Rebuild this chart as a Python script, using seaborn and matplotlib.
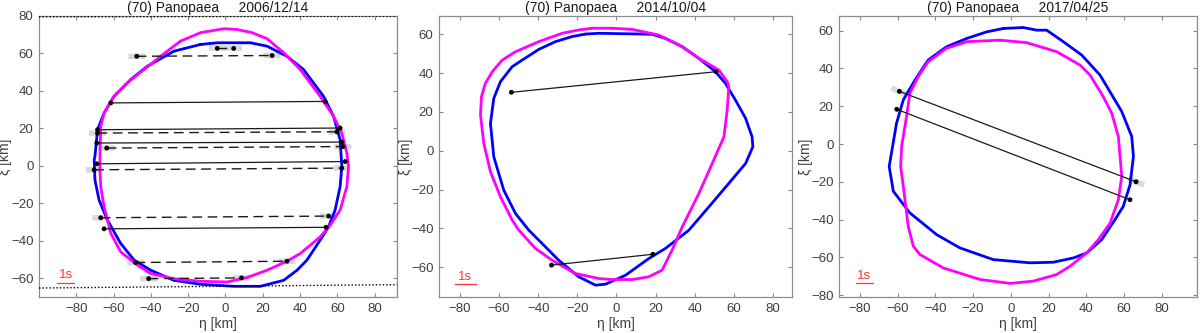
import numpy as np
import pandas as pd
import matplotlib
matplotlib.use("Agg")
import matplotlib.pyplot as plt
import seaborn as sns

sns.set_theme(style="white")
plt.rcParams['font.family'] = ['Liberation Sans', 'DejaVu Sans']

# ---------------- data ----------------
titles = ["(70) Panopaea     2006/12/14",
          "(70) Panopaea     2014/10/04",
          "(70) Panopaea     2017/04/25"]

# Panel 1 (2006/12/14) outlines
p1_blue_eta = [-13.4, -4.4, 13.4, 22.3, 33.0, 41.9, 52.6, 58.0, 61.5, 62.4, 61.5, 58.8, 55.3, 50.8,
               43.7, 38.4, 31.2, 18.7, 4.5, -13.4, -27.7, -40.1, -49.0, -56.2, -63.3, -67.8, -70.0,
               -70.4, -70.0, -68.6, -65.1, -59.8, -50.8, -41.9, -27.7, -13.4]
p1_blue_xi = [64.8, 65.7, 65.7, 63.9, 58.5, 51.4, 37.1, 26.4, 13.9, -0.4, -11.1, -23.6, -32.5, -39.6,
              -50.3, -55.7, -61.1, -64.3, -64.3, -63.2, -61.1, -55.7, -50.3, -41.4, -28.9, -18.2, -7.5,
              3.2, 5.0, 19.3, 28.2, 37.1, 46.1, 53.2, 61.2, 64.8]
p1_mag_eta = [-24.1, -13.4, -0.9, 6.3, 14.3, 22.3, 31.2, 40.1, 50.8, 58.0, 62.4, 65.1, 66.0, 65.1,
              61.5, 56.2, 50.8, 40.1, 33.0, 22.3, 11.6, 0.9, -13.4, -27.7, -40.1, -47.2, -56.2, -61.5,
              -65.1, -66.9, -67.4, -66.9, -65.1, -59.8, -52.6, -43.7, -34.8, -24.1]
p1_mag_xi = [66.6, 71.1, 73.2, 72.8, 71.1, 67.9, 60.4, 51.4, 37.1, 26.4, 17.5, 6.8, -0.4, -11.1,
             -23.6, -31.6, -37.9, -46.8, -50.9, -55.7, -59.6, -62.0, -61.6, -60.2, -57.5, -53.0, -45.9, -36.0,
             -21.8, -11.1, 0.5, 21.0, 28.2, 37.1, 44.3, 51.4, 58.5, 66.6]

# Panel 1 chords: start/end eta, xi and style (solid / dashed)
p1_eta1 = [-4.4, -47.6, -61.5, -68.6, -68.6, -69.0, -63.7, -69.0, -70.4, -66.9, -65.1, -48.2, -41.2]
p1_xi1 = [62.7, 58.5, 33.6, 19.3, 17.5, 12.2, 9.5, 1.1, -2.1, -27.7, -33.6, -51.6, -60.2]
p1_eta2 = [4.4, 25.0, 53.5, 61.5, 59.8, 62.4, 63.0, 64.2, 62.4, 55.3, 54.0, 33.0, 8.6]
p1_xi2 = [62.7, 58.9, 34.4, 20.2, 18.2, 12.7, 10.3, 2.3, -1.2, -26.8, -32.8, -50.9, -59.8]
p1_style = ["dashed", "dashed", "solid", "solid", "dashed", "solid", "dashed", "solid",
            "dashed", "dashed", "solid", "dashed", "dashed"]
# negative (miss) chords shown as dotted lines
p1_neg_eta = [[-100, 92], [-100, 92]]
p1_neg_xi = [[79.6, 79.9], [-65.2, -63.4]]

# Panel 2 (2014/10/04)
p2_blue_eta = [-15.8, -9.0, 18.2, 25.0, 33.6, 42.1, 50.6, 55.7, 60.8, 66.0, 69.3, 69.7, 66.0, 57.4,
               47.2, 37.0, 25.0, 16.5, 4.6, -5.6, -10.7, -19.3, -29.5, -36.3, -44.8, -51.6, -57.6,
               -62.7, -64.4, -62.7, -59.3, -53.3, -48.2, -39.7, -31.2, -22.7, -15.8]
p2_blue_xi = [60.1, 60.5, 60.0, 57.9, 53.6, 47.6, 40.7, 34.7, 26.1, 16.7, 7.2, 2.1, -6.5, -16.8,
              -28.9, -40.9, -50.3, -55.5, -64.1, -68.7, -69.2, -64.9, -56.4, -49.5, -40.9, -32.3, -20.3,
              -3.1, 14.1, 27.0, 35.6, 43.3, 46.7, 52.2, 56.2, 58.8, 60.1]
p2_mag_eta = [-2.2, -12.4, -19.3, -27.8, -39.7, -51.6, -58.4, -63.5, -67.0, -69.0, -69.5, -67.8,
              -64.4, -59.3, -53.3, -49.9, -41.4, -32.9, -21.0, -9.0, -2.2, 8.0, 16.5, 23.3, 28.4,
              33.6, 42.1, 49.7, 54.9, 56.6, 57.4, 56.6, 52.3, 42.1, 33.6, 21.6, 8.0, -2.2]
p2_mag_xi = [63.1, 63.1, 62.2, 60.5, 56.2, 51.0, 46.7, 40.7, 34.7, 27.8, 18.4, 3.8,
             -10.8, -23.7, -35.7, -40.9, -50.3, -56.4, -63.2, -65.8, -66.3, -66.3, -64.9, -61.5, -51.2,
             -39.2, -22.0, -4.8, 7.2, 21.0, 33.0, 35.6, 41.6, 47.6, 53.6, 59.6, 62.5, 63.1]
p2_eta1 = [-53.7, -33.2]
p2_xi1 = [30.1, -58.9]
p2_eta2 = [50.9, 18.6]
p2_xi2 = [40.7, -53.3]

# Panel 3 (2017/04/25)
p3_blue_eta = [-4.0, 6.6, 13.7, 19.0, 27.8, 37.6, 47.3, 58.8, 64.1, 65.0, 63.2, 59.6, 55.2, 48.2,
               40.2, 33.2, 22.5, 10.2, -9.3, -27.0, -39.3, -53.5, -62.3, -64.5, -60.6, -57.0, -50.8,
               -43.8, -34.1, -23.4, -12.8, -4.0]
p3_blue_xi = [61.2, 61.7, 60.3, 60.3, 54.2, 47.1, 36.5, 17.2, 4.0, -6.6, -21.6, -33.0, -40.1, -50.6,
              -57.7, -60.3, -62.6, -62.9, -61.2, -55.0, -48.0, -36.5, -25.0, -11.9, 11.0, 23.4, 33.9,
              44.5, 51.5, 55.9, 59.4, 61.2]
p3_mag_eta = [-5.7, 8.4, 24.3, 36.7, 42.0, 49.0, 53.5, 57.0, 58.8, 57.0, 52.6, 46.4, 40.2, 31.4,
              24.3, 11.9, -0.4, -16.4, -35.8, -48.2, -51.7, -54.4, -57.0, -58.4, -57.9, -55.3, -53.5,
              -49.1, -43.8, -34.1, -23.4, -5.7]
p3_mag_xi = [55.0, 53.7, 48.9, 41.8, 36.5, 25.1, 16.3, 4.0, -17.1, -29.5, -41.9, -50.6, -57.7, -64.7,
             -69.1, -72.6, -73.8, -71.7, -65.6, -58.5, -54.1, -43.6, -22.4, -11.9, -1.3, 14.6, 26.9,
             35.7, 43.6, 50.7, 54.2, 55.0]
p3_eta1 = [-59.1, -60.5]
p3_xi1 = [27.9, 18.4]
p3_eta2 = [66.4, 63.2]
p3_xi2 = [-20.0, -29.5]
p3_err = [True, False]

# 1 s scale bars: start eta, end eta, xi
sb_eta1 = [-90.3, -82.6, -82.1]
sb_eta2 = [-81.2, -71.9, -73.1]
sb_xi = [-62.5, -68.8, -73.8]

# axes limits / ticks
xlims = [(-100, 92), (-90.7, 89.7), (-91.1, 98.7)]
ylims = [(-70, 80), (-75.3, 69.4), (-81, 67.8)]
yticks = [np.arange(-60, 81, 20), np.arange(-60, 61, 20), np.arange(-80, 61, 20)]
xticks = np.arange(-80, 81, 20)

# ---------------- plotting ----------------
W, H = 1200, 333
fig = plt.figure(figsize=(W / 100, H / 100), dpi=100)
positions = [(39, 16, 397, 297), (439, 16, 792, 297), (839, 16, 1197, 297)]
ylabel_right_px = [12, 413, 813]
axes = []
for (l, t, r, b) in positions:
    axes.append(fig.add_axes([l / W, (H - b) / H, (r - l) / W, (b - t) / H]))

BLUE = "#0000ff"
MAG = "#ff00ff"
GRAY = "#d9d9d9"
OUT_LW = 2.0


def outline(ax, eta, xi, color):
    df = pd.DataFrame({"eta": eta, "xi": xi})
    sns.lineplot(data=df, x="eta", y="xi", sort=False, estimator=None,
                 color=color, lw=OUT_LW, ax=ax, zorder=3)


def chord(ax, e1, x1, e2, x2, style, err):
    if err:
        d = np.array([e2 - e1, x2 - x1])
        u = d / np.hypot(*d)
        for (e, x) in ((e1, x1), (e2, x2)):
            ax.plot([e - 4.5 * u[0], e + 4.5 * u[0]], [x - 4.5 * u[1], x + 4.5 * u[1]],
                    color=GRAY, lw=4, solid_capstyle="butt", zorder=2)
    if style == "dashed":
        ax.plot([e1, e2], [x1, x2], color="#1a1a1a", lw=1.0, ls=(0, (7, 4)), zorder=4)
    else:
        ax.plot([e1, e2], [x1, x2], color="#1a1a1a", lw=0.9, zorder=4)
    sns.scatterplot(x=[e1, e2], y=[x1, x2], color="black", s=12, edgecolor="none",
                    ax=ax, zorder=5, legend=False)


# Panel 1
ax = axes[0]
for i in range(len(p1_eta1)):
    chord(ax, p1_eta1[i], p1_xi1[i], p1_eta2[i], p1_xi2[i], p1_style[i], p1_style[i] == "dashed")
outline(ax, p1_blue_eta, p1_blue_xi, BLUE)
outline(ax, p1_mag_eta, p1_mag_xi, MAG)
for e, x in zip(p1_neg_eta, p1_neg_xi):
    ax.plot(e, x, color="black", lw=1.0, ls=(0, (1, 1.5)), zorder=4)

# Panel 2
ax = axes[1]
outline(ax, p2_blue_eta, p2_blue_xi, BLUE)
outline(ax, p2_mag_eta, p2_mag_xi, MAG)
for i in range(len(p2_eta1)):
    chord(ax, p2_eta1[i], p2_xi1[i], p2_eta2[i], p2_xi2[i], "solid", False)

# Panel 3
ax = axes[2]
for i in range(len(p3_eta1)):
    chord(ax, p3_eta1[i], p3_xi1[i], p3_eta2[i], p3_xi2[i], "solid", p3_err[i])
outline(ax, p3_blue_eta, p3_blue_xi, BLUE)
outline(ax, p3_mag_eta, p3_mag_xi, MAG)

AX_COLOR = "#8c8c8c"
TXT_COLOR = "#404040"
for i, ax in enumerate(axes):
    ax.set_xlim(*xlims[i])
    ax.set_ylim(*ylims[i])
    ax.set_xticks(xticks)
    ax.set_yticks(yticks[i])
    ax.tick_params(direction="in", length=3, width=0.8, color=AX_COLOR,
                   labelcolor=TXT_COLOR, labelsize=9.5, top=True, right=True,
                   bottom=True, left=True, pad=4)
    for sp in ax.spines.values():
        sp.set_color(AX_COLOR)
        sp.set_linewidth(0.9)
        sp.set_visible(True)
    ax.set_xlabel("η [km]", fontsize=10, color=TXT_COLOR, labelpad=2)
    ax.set_ylabel("ξ [km]", fontsize=10, color=TXT_COLOR)
    l, t, r, b = positions[i]
    ax.yaxis.set_label_coords((ylabel_right_px[i] - l) / (r - l), 0.5)
    ax.set_title(titles[i], fontsize=10, color="#1a1a1a", pad=3)
    # 1 s scale bar
    ax.plot([sb_eta1[i], sb_eta2[i]], [sb_xi[i], sb_xi[i]], color="#ff3333", lw=0.9, zorder=6)
    ax.text((sb_eta1[i] + sb_eta2[i]) / 2, sb_xi[i] + 0.8, "1s", color="#ff3333",
            fontsize=9.5, ha="center", va="bottom", zorder=6)
    ax.set_facecolor("white")

fig.patch.set_facecolor("white")
fig.savefig("out.png", dpi=100, facecolor="white")
